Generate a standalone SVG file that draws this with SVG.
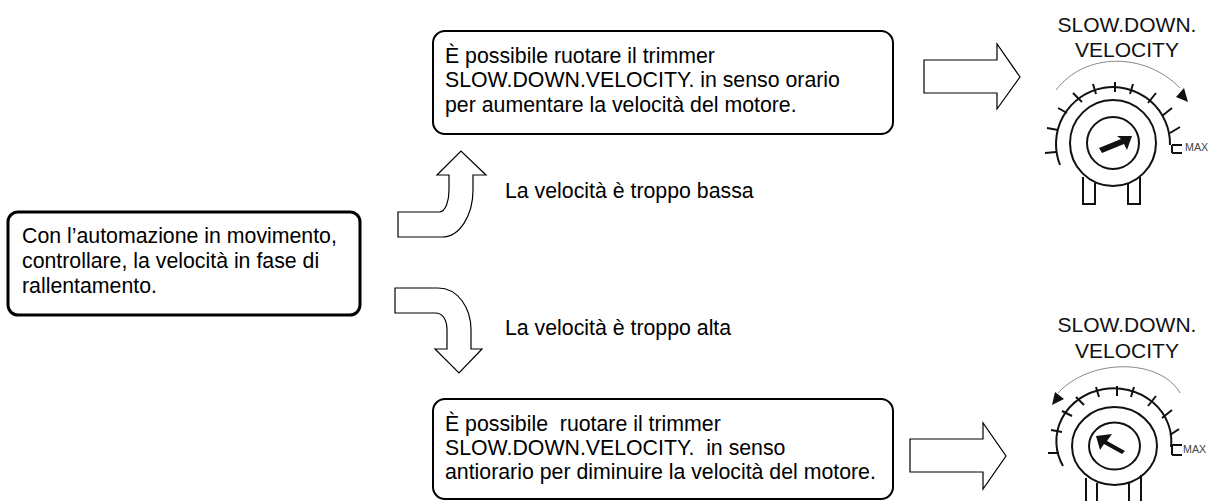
<svg xmlns="http://www.w3.org/2000/svg" width="1209" height="501" viewBox="0 0 1209 501">
<style>
text{font-family:"Liberation Sans",Arial,sans-serif;font-size:21.3px;fill:#000;white-space:pre}
.box{fill:#fff;stroke:#000;stroke-width:2}
.arrow{fill:#fff;stroke:#000;stroke-width:1.2}
.line{fill:none;stroke:#111;stroke-width:2}
.thin{fill:none;stroke:#555;stroke-width:.7}
.lbl{font-size:21px;fill:#111;text-anchor:middle}
.max{font-size:10.7px;fill:#444}
</style>
<rect width="1209" height="501" fill="#fff"/>
<g id="connectors">
<path class="arrow" d="M398 212H439C446 212 449 200 449 190V175H437L461 151L486 175H473V190C473 215 460 237 442 237H398Z"/>
<path class="arrow" d="M395 288H438C458 288 471 308 471 330V349H482L459 373L435 349H447V330C447 320 443 313 435 313H395Z"/>
<path class="arrow" d="M924 60H997V44L1020 77L997 109V93H924Z"/>
<path class="arrow" d="M910 439H983V423L1006 456L983 489V472H910Z"/>
</g>
<g id="start">
<rect class="box" style="stroke-width:3" x="8" y="212" width="352" height="103" rx="10"/>
<text x="22" y="243">Con l’automazione in movimento,</text>
<text x="22" y="268">controllare, la velocità in fase di</text>
<text x="22" y="293">rallentamento.</text>
</g>
<g id="increase">
<rect class="box" x="433" y="31" width="460" height="103" rx="12"/>
<text x="445" y="63">È possibile ruotare il trimmer</text>
<text x="445" y="87">SLOW.DOWN.VELOCITY. in senso orario</text>
<text x="445" y="112">per aumentare la velocità del motore.</text>
</g>
<g id="decrease">
<rect class="box" x="433" y="399" width="460" height="100" rx="12"/>
<text x="445" y="431">È possibile  ruotare il trimmer</text>
<text x="445" y="455">SLOW.DOWN.VELOCITY.  in senso</text>
<text x="445" y="479">antiorario per diminuire la velocità del motore.</text>
</g>
<g id="label-low"><text x="505" y="198">La velocità è troppo bassa</text></g>
<g id="label-high"><text x="505" y="335">La velocità è troppo alta</text></g>
<g id="trimmer-up">
<text class="lbl" x="1127" y="32">SLOW.DOWN.</text>
<text class="lbl" x="1127" y="57">VELOCITY</text>
<path class="thin" d="M1056 90C1085 52 1145 52 1180 88"/>
<path d="M1176 97L1184 88L1188 102Z" fill="#111"/>
<path class="line" d="M1060 165A57 57 0 1 1 1170 145"/>
<circle class="line" cx="1113" cy="143" r="43"/>
<circle class="line" cx="1113" cy="143" r="26"/>
<path class="line" d="M1045 153L1056 152M1047 128L1058 130M1058 108L1067 113M1073 93L1082 102M1093 84L1096 94M1115 82V92M1133 84L1130 94M1156 93L1148 103M1172 108L1162 116M1180 127L1170 133M1172 145H1182M1172 153H1182M1172 145V153"/>
<path class="line" d="M1083 177V204H1095V183M1128 183V204H1140V177"/>
<path d="M1099 148L1121 139L1117 136L1132 136L1127 150L1124 144L1102 153Z" fill="#111"/>
<text class="max" x="1185" y="151">MAX</text>
</g>
<g id="trimmer-down">
<text class="lbl" x="1127" y="332">SLOW.DOWN.</text>
<text class="lbl" x="1127" y="358">VELOCITY</text>
<path class="thin" d="M1180 393C1160 358 1090 358 1058 393"/>
<path d="M1055 392L1064 399L1052 405Z" fill="#111"/>
<path class="line" d="M1063 466A57.500 53 0 1 1 1171 447"/>
<ellipse class="line" cx="1114.500" cy="446" rx="42.500" ry="39"/>
<ellipse class="line" cx="1114.500" cy="446" rx="25.500" ry="23.500"/>
<path class="line" d="M1048 453H1059M1051 430L1062 432M1062 411L1072 416M1076 397L1084 405M1096 387L1099 397M1117 386V396M1134 387L1131 397M1156 396L1148 406M1172 410L1162 418M1179 429L1170 435M1172 445H1182M1172 455H1182M1172 445V455"/>
<path class="line" d="M1086 478V501M1097 483V501M1129 483V501M1141 475V501"/>
<path d="M1096 436L1112 434L1107 441L1125 451L1122 454L1104 444L1100 450Z" fill="#111"/>
<text class="max" x="1183" y="453">MAX</text>
</g>
</svg>
